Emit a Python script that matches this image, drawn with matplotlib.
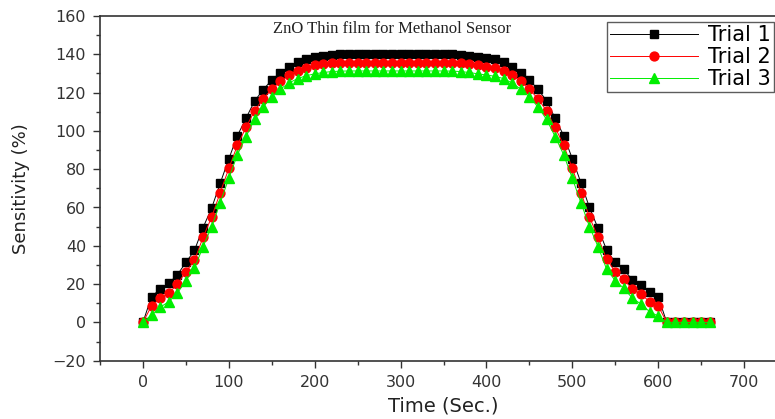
import matplotlib
matplotlib.use("Agg")
import matplotlib.pyplot as plt
from matplotlib.ticker import MultipleLocator

# time axis (s)
time = [0, 10, 20, 30, 40, 50, 60, 70, 80, 90,
        100, 110, 120, 130, 140, 150, 160, 170, 180, 190,
        200, 210, 220, 230, 240, 250, 260, 270, 280, 290,
        300, 310, 320, 330, 340, 350, 360, 370, 380, 390,
        400, 410, 420, 430, 440, 450, 460, 470, 480, 490,
        500, 510, 520, 530, 540, 550, 560, 570, 580, 590,
        600, 610, 620, 630, 640, 650, 660]

trial1 = [0, 13.5, 17.3, 20.4, 24.8, 31.3, 37.6, 49.5, 59.7, 72.7,
          85.4, 97.5, 106.6, 115.6, 121.5, 126.6, 130.4, 133.6, 136.0, 137.5,
          138.7, 139.3, 139.7, 140.0, 140.2, 140.3, 140.4, 140.4, 140.4, 140.4,
          140.4, 140.4, 140.4, 140.4, 140.3, 140.2, 140.0, 139.7, 139.3, 138.7,
          138.0, 137.3, 136.1, 133.5, 130.4, 126.6, 121.7, 115.8, 106.6, 97.5,
          85.5, 73.0, 60.0, 49.1, 37.8, 31.3, 27.7, 22.1, 19.5, 15.8,
          13.4, 0, 0, 0, 0, 0, 0]

trial2 = [0, 8.6, 12.6, 15.2, 19.9, 26.5, 32.4, 44.4, 55.0, 67.8,
          80.4, 92.5, 101.8, 110.5, 116.8, 121.8, 125.8, 129.0, 131.5, 133.0,
          134.2, 134.8, 135.2, 135.5, 135.6, 135.6, 135.6, 135.6, 135.6, 135.6,
          135.6, 135.6, 135.6, 135.6, 135.6, 135.6, 135.5, 135.2, 134.8, 134.2,
          133.6, 132.8, 131.3, 129.0, 125.8, 121.8, 116.8, 110.5, 101.8, 92.5,
          80.4, 67.8, 55.0, 44.4, 33.0, 26.5, 22.5, 17.3, 14.8, 10.8,
          8.6, 0, 0, 0, 0, 0, 0]

trial3 = [0, 3.9, 7.9, 10.8, 15.2, 21.8, 28.2, 39.5, 50.0, 62.5,
          75.3, 87.5, 97.0, 106.0, 112.5, 117.8, 121.8, 125.0, 127.3, 128.8,
          129.8, 130.5, 131.0, 131.2, 131.3, 131.3, 131.3, 131.3, 131.3, 131.3,
          131.3, 131.3, 131.3, 131.3, 131.3, 131.3, 131.2, 131.0, 130.5, 129.8,
          129.2, 128.5, 127.3, 125.0, 121.8, 117.8, 112.5, 106.0, 97.0, 87.5,
          75.3, 62.5, 50.0, 39.5, 27.7, 21.8, 17.8, 12.6, 9.6, 5.6,
          3.3, 0, 0, 0, 0, 0, 0]

series_names = ["Trial 1", "Trial 2", "Trial 3"]

plt.rcParams['font.family'] = ['DejaVu Sans']

fig = plt.figure(figsize=(7.75, 4.19), dpi=100)
ax = fig.add_axes([100 / 775, 1 - 360.7 / 419, 687 / 775, (360.7 - 16) / 419])

ax.plot(time, trial1, color='black', lw=0.7, marker='s', ms=6,
        mec='black', mfc='black', label=series_names[0])
ax.plot(time, trial2, color='red', lw=0.7, marker='o', ms=6.4,
        mec='red', mfc='red', label=series_names[1])
ax.plot(time, trial3, color='#00ee00', lw=0.7, marker='^', ms=6.8,
        mec='#00ee00', mfc='#00ee00', label=series_names[2])

ax.set_xlim(-50, 750)
ax.set_ylim(-20, 160)
ax.xaxis.set_major_locator(MultipleLocator(100))
ax.xaxis.set_minor_locator(MultipleLocator(50))
ax.yaxis.set_major_locator(MultipleLocator(20))
ax.yaxis.set_minor_locator(MultipleLocator(10))
ax.tick_params(which='major', direction='out', length=5, width=1.0,
               labelsize=11.5, colors='#333333', pad=5)
ax.tick_params(which='minor', direction='out', length=3, width=1.0,
               colors='#333333')
for sp in ax.spines.values():
    sp.set_linewidth(1.2)
    sp.set_color('#333333')

ax.set_xlabel('Time (Sec.)', fontsize=14, labelpad=5, color='#222222')
ax.set_ylabel('Sensitivity (%)', fontsize=13, labelpad=16, color='#222222')

ax.text(290, 153, 'ZnO Thin film for Methanol Sensor', ha='center', va='center',
        fontsize=12, family='Liberation Serif', color='#222222')

leg = fig.legend(loc='upper right', bbox_to_anchor=(774 / 775, 1 - 22 / 419),
                 fontsize=15, frameon=True, fancybox=False, borderpad=0.15,
                 handlelength=4.2, handletextpad=0.5, labelspacing=0.1,
                 borderaxespad=0)
leg.get_frame().set_edgecolor('#333333')
leg.get_frame().set_linewidth(1.0)

fig.savefig('out.png', dpi=100)
